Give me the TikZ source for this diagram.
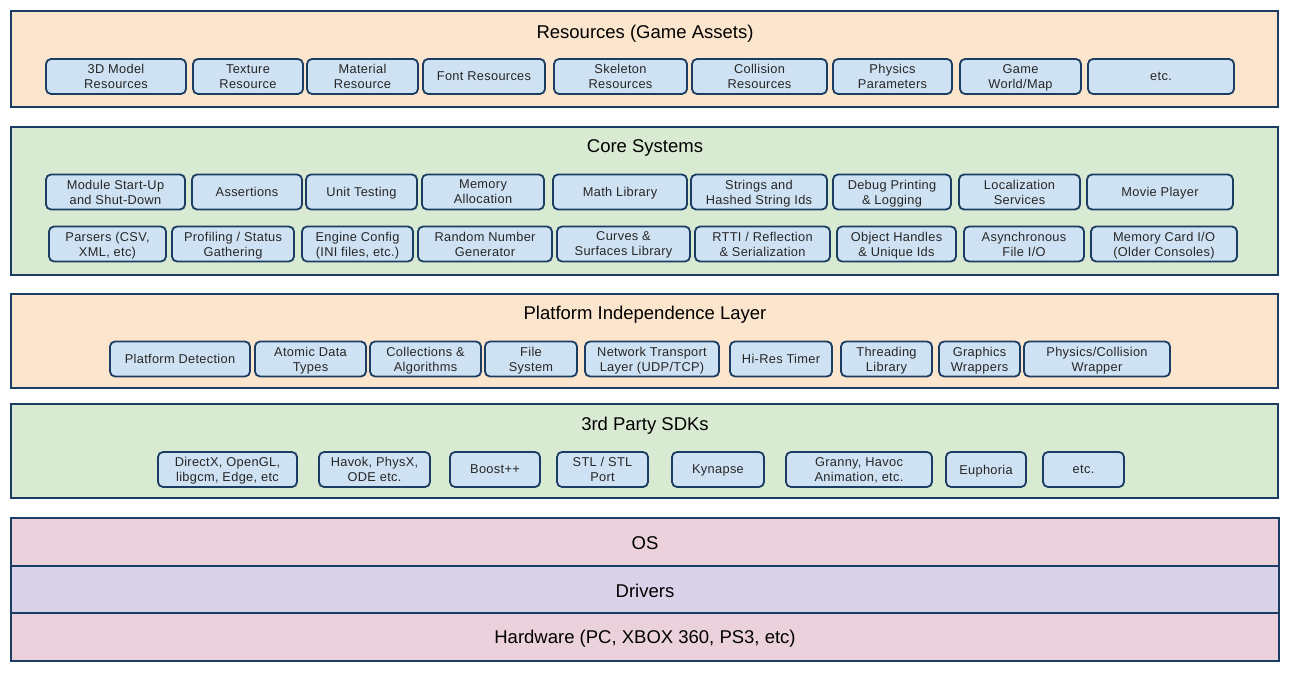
\documentclass[tikz,border=0pt]{standalone}
\usepackage{fontspec}
\setmainfont{Liberation Sans}
\newfontfamily\itemfont[LetterSpace=2.5]{Liberation Sans}
\definecolor{peach}{HTML}{FCE5CD}
\definecolor{sage}{HTML}{D9EAD3}
\definecolor{itemblue}{HTML}{CFE2F3}
\definecolor{rose}{HTML}{EAD1DC}
\definecolor{lav}{HTML}{D9D2E9}
\definecolor{navy}{HTML}{1B3D63}
\tikzset{
  layer/.style={draw=navy, line width=1.5pt, minimum height=#1, inner sep=0pt, minimum width=1267pt},
  ttl/.style={font=\fontsize{18.5}{21}\selectfont, text=black, inner sep=0pt},
  item/.style={draw=navy, fill=itemblue, line width=1.8pt, rounded corners=5pt, minimum width=#1, inner sep=0pt,
    align=center, font=\itemfont\fontsize{12.8}{15}\selectfont, text=black!85, text depth=0pt},
  itemA/.style={item=#1, minimum height=35pt},
}
\begin{document}
\begin{tikzpicture}[x=1pt,y=-1pt]
\useasboundingbox (0,0) rectangle (1291,676);
% layers
\node[layer=96pt, fill=peach] (res) at (644.5,59) {};
\node[layer=148pt, fill=sage] (core) at (644.5,201) {};
\node[layer=94pt, fill=peach] (plat) at (644.5,341) {};
\node[layer=94pt, fill=sage] (sdk) at (644.5,451) {};
\node[layer=48pt, fill=rose, minimum width=1268pt] (os) at (645,542) {};
\node[layer=47pt, fill=lav, minimum width=1268pt] (drv) at (645,589.5) {};
\node[layer=48pt, fill=rose, minimum width=1268pt] (hw) at (645,637) {};
% titles
\node[ttl] (tres) at (645,33.5) {Resources (Game Assets)};
\node[ttl] (tcore) at (645,148) {Core Systems};
\node[ttl] (tplat) at (645,315) {Platform Independence Layer};
\node[ttl] (tsdk) at (645,425.5) {3rd Party SDKs};
\node[ttl] (tos) at (645,543) {OS};
\node[ttl] (tdrv) at (645,591) {Drivers};
\node[ttl] (thw) at (645,639) {Hardware (PC, XBOX 360, PS3, etc)};
% resources
\node[itemA=140pt] (r1) at (116,76.5) {3D Model\\Resources};
\node[itemA=110pt] (r2) at (248,76.5) {Texture\\Resource};
\node[itemA=111pt] (r3) at (362.5,76.5) {Material\\Resource};
\node[itemA=122pt] (r4) at (484,76.5) {Font Resources};
\node[itemA=133pt] (r5) at (620.5,76.5) {Skeleton\\Resources};
\node[itemA=135pt] (r6) at (759.5,76.5) {Collision\\Resources};
\node[itemA=119pt] (r7) at (892.5,76.5) {Physics\\Parameters};
\node[itemA=121pt] (r8) at (1020.5,76.5) {Game\\World/Map};
\node[itemA=146pt] (r9) at (1161,76.5) {etc.};
% core row 1
\node[itemA=139pt] (c1) at (115.5,192) {Module Start-Up\\and Shut-Down};
\node[itemA=110pt] (c2) at (247,192) {Assertions};
\node[itemA=111pt] (c3) at (361.5,192) {Unit Testing};
\node[itemA=122pt] (c4) at (483,192) {Memory\\Allocation};
\node[itemA=134pt] (c5) at (620,192) {Math Library};
\node[itemA=136pt] (c6) at (759,192) {Strings and\\Hashed String Ids};
\node[itemA=118pt] (c7) at (892,192) {Debug Printing\\\& Logging};
\node[itemA=121pt] (c8) at (1019.5,192) {Localization\\Services};
\node[itemA=146pt] (c9) at (1160,192) {Movie Player};
% core row 2
\node[itemA=117pt] (d1) at (107.5,244) {Parsers (CSV,\\XML, etc)};
\node[itemA=122pt] (d2) at (233,244) {Profiling / Status\\Gathering};
\node[itemA=111pt] (d3) at (357.5,244) {Engine Config\\(INI files, etc.)};
\node[itemA=134pt] (d4) at (485,244) {Random Number\\Generator};
\node[itemA=133pt] (d5) at (623.5,244) {Curves \&\\Surfaces Library};
\node[itemA=135pt] (d6) at (762.5,244) {RTTI / Reflection\\\& Serialization};
\node[itemA=119pt] (d7) at (896.5,244) {Object Handles\\\& Unique Ids};
\node[itemA=120pt] (d8) at (1024,244) {Asynchronous\\File I/O};
\node[itemA=146pt] (d9) at (1164,244) {Memory Card I/O\\(Older Consoles)};
% platform
\node[itemA=140pt] (p1) at (180,359) {Platform Detection};
\node[itemA=111pt] (p2) at (310.5,359) {Atomic Data\\Types};
\node[itemA=111pt] (p3) at (425.5,359) {Collections \&\\Algorithms};
\node[itemA=92pt] (p4) at (531,359) {File\\System};
\node[itemA=134pt] (p5) at (652,359) {Network Transport\\Layer (UDP/TCP)};
\node[itemA=102pt] (p6) at (781,359) {Hi-Res Timer};
\node[itemA=91pt] (p7) at (886.5,359) {Threading\\Library};
\node[itemA=81pt] (p8) at (979.5,359) {Graphics\\Wrappers};
\node[itemA=146pt] (p9) at (1097,359) {Physics/Collision\\Wrapper};
% sdks
\node[itemA=139pt] (s1) at (227.5,469.5) {DirectX, OpenGL,\\libgcm, Edge, etc};
\node[itemA=111pt] (s2) at (374.5,469.5) {Havok, PhysX,\\ODE etc.};
\node[itemA=90pt] (s3) at (495,469.5) {Boost++};
\node[itemA=91pt] (s4) at (602.5,469.5) {STL / STL\\Port};
\node[itemA=92pt] (s5) at (718,469.5) {Kynapse};
\node[itemA=146pt] (s6) at (859,469.5) {Granny, Havoc\\Animation, etc.};
\node[itemA=80pt] (s7) at (986,469.5) {Euphoria};
\node[itemA=81pt] (s8) at (1083.5,469.5) {etc.};
\end{tikzpicture}
\end{document}
